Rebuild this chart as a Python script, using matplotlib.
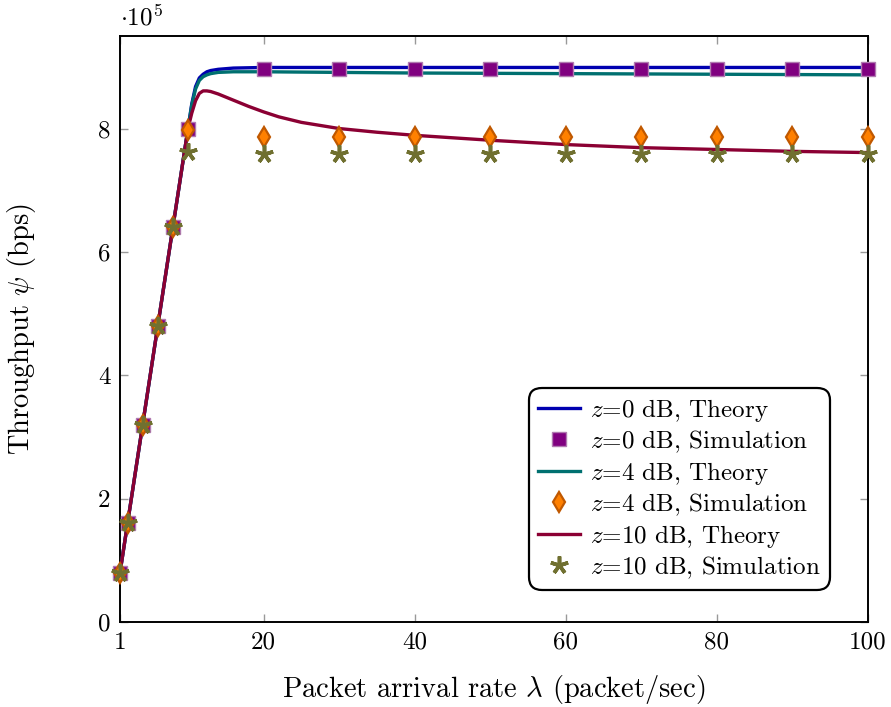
import matplotlib
matplotlib.use("Agg")
import matplotlib.pyplot as plt

plt.rcParams["font.family"] = "serif"
plt.rcParams["font.serif"] = ["cmr10"]
plt.rcParams["mathtext.fontset"] = "cm"
plt.rcParams["axes.unicode_minus"] = False

# theory curves (throughput in units of 1e5 bps)
lam_th = [1, 2, 4, 6, 8, 10, 10.5, 11, 11.5, 12, 12.5, 13, 14, 15, 16, 18, 20,
          22, 25, 30, 35, 40, 50, 60, 70, 80, 90, 100]
th_z0 = [0.8, 1.6, 3.2, 4.8, 6.4, 8.0, 8.4, 8.68, 8.82, 8.88, 8.92, 8.94, 8.96, 8.97,
         8.98, 8.985, 8.99, 8.99, 8.99, 8.99, 8.99, 8.99, 8.99, 8.99, 8.99, 8.99, 8.99, 8.99]
th_z4 = [0.8, 1.6, 3.2, 4.8, 6.4, 8.0, 8.38, 8.64, 8.78, 8.84, 8.87, 8.89, 8.91, 8.915,
         8.92, 8.92, 8.92, 8.918, 8.915, 8.91, 8.905, 8.9, 8.895, 8.89, 8.885, 8.88, 8.875, 8.87]
th_z10 = [0.8, 1.6, 3.2, 4.8, 6.4, 8.0, 8.25, 8.45, 8.57, 8.61, 8.61, 8.6, 8.56, 8.51,
          8.46, 8.36, 8.27, 8.19, 8.1, 8.0, 7.94, 7.89, 7.81, 7.74, 7.69, 7.66, 7.63, 7.61]

# simulation points
lam_sim = [1, 2, 4, 6, 8, 10, 20, 30, 40, 50, 60, 70, 80, 90, 100]
sim_z0 = [0.8, 1.6, 3.2, 4.8, 6.4, 8.0, 8.97, 8.97, 8.97, 8.97, 8.97, 8.97, 8.97, 8.97, 8.97]
sim_z4 = [0.8, 1.6, 3.2, 4.8, 6.4, 7.97, 7.86, 7.86, 7.86, 7.86, 7.86, 7.86, 7.86, 7.86, 7.86]
sim_z10 = [0.8, 1.6, 3.2, 4.8, 6.4, 7.62, 7.58, 7.58, 7.58, 7.58, 7.58, 7.58, 7.58, 7.58, 7.58]

x_ticks = [1, 20, 40, 60, 80, 100]
y_ticks = [0, 2, 4, 6, 8]

fig = plt.figure(figsize=(8.91, 7.07), dpi=100)
ax = fig.add_axes([120 / 891, 1 - 622 / 707, 748 / 891, 586 / 707])

ax.plot(lam_th, th_z0, color="#0000b0", lw=2.4, label=r"$z$=0 dB, Theory", zorder=3)
ax.plot(lam_sim, sim_z0, ls="none", marker="s", ms=10, mfc="#800080", mec="#b07ab0",
        mew=1, label=r"$z$=0 dB, Simulation", zorder=4, clip_on=False)
ax.plot(lam_th, th_z4, color="#007070", lw=2.4, label=r"$z$=4 dB, Theory", zorder=3)
ax.plot(lam_sim, sim_z4, ls="none", marker="d", ms=10.5, mfc="#ff8000", mec="#c05800",
        mew=1.6, label=r"$z$=4 dB, Simulation", zorder=5, clip_on=False)
ax.plot(lam_th, th_z10, color="#8b0033", lw=2.4, label=r"$z$=10 dB, Theory", zorder=3)
ax.plot(lam_sim, sim_z10, ls="none", marker=(5, 2, 0), ms=13, mec="#707030",
        mew=2.6, label=r"$z$=10 dB, Simulation", zorder=6, clip_on=False)

ax.set_xlim(1, 100)
ax.set_ylim(0, 9.5)
ax.set_xticks(x_ticks)
ax.set_yticks(y_ticks)
ax.tick_params(direction="in", length=6, width=1, color="#999999", labelsize=18,
               top=True, right=True, pad=7)
for s in ax.spines.values():
    s.set_linewidth(1.4)

ax.set_xlabel(r"Packet arrival rate $\lambda$ (packet/sec)", fontsize=20.5)
ax.set_ylabel(r"Throughput $\psi$ (bps)", fontsize=20.5)
ax.xaxis.set_label_coords(0.5, -0.087)
ax.yaxis.set_label_coords(-0.110, 0.5)
ax.text(0.0, 1.01, r"$\cdot 10^5$", transform=ax.transAxes, fontsize=18,
        ha="left", va="bottom")

leg = ax.legend(loc="lower right", bbox_to_anchor=(0.949, 0.055), fontsize=18,
                frameon=True, fancybox=True, edgecolor="black", framealpha=1,
                handlelength=1.68, handletextpad=0.4, borderpad=0.36,
                labelspacing=0.19, borderaxespad=0)
leg.get_frame().set_linewidth(1.6)
leg.get_frame().set_boxstyle("round,pad=0,rounding_size=0.5")

fig.savefig("out.png", dpi=100)
